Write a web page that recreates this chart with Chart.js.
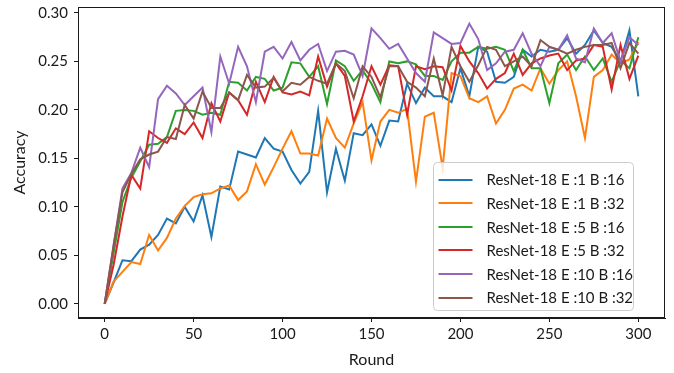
<!DOCTYPE html>
<html>
<head>
<meta charset="utf-8">
<script src="https://cdn.jsdelivr.net/npm/chart.js@4/dist/chart.umd.min.js"></script>
<style>
  html, body { margin: 0; padding: 0; background: #ffffff; }
  #wrap { width: 674px; height: 373px; }
</style>
</head>
<body>
<div id="wrap"><canvas id="c" width="674" height="373"></canvas></div>
<script>
const rounds = [0,5,10,15,20,25,30,35,40,45,50,55,60,65,70,75,80,85,90,95,100,105,110,115,120,125,130,135,140,145,150,155,160,165,170,175,180,185,190,195,200,205,210,215,220,225,230,235,240,245,250,255,260,265,270,275,280,285,290,295,300];

const accE1B16 = [0,0.022,0.045,0.044,0.056,0.061,0.071,0.088,0.083,0.100,0.085,0.112,0.069,0.121,0.118,0.157,0.154,0.151,0.171,0.160,0.157,0.138,0.124,0.136,0.199,0.115,0.160,0.127,0.176,0.174,0.185,0.163,0.189,0.188,0.227,0.207,0.223,0.214,0.214,0.208,0.243,0.214,0.265,0.260,0.229,0.228,0.234,0.262,0.255,0.262,0.260,0.262,0.274,0.258,0.267,0.282,0.269,0.265,0.250,0.282,0.214];
const accE1B32 = [0,0.023,0.033,0.043,0.041,0.071,0.055,0.068,0.088,0.101,0.110,0.113,0.114,0.119,0.122,0.107,0.116,0.144,0.123,0.141,0.160,0.178,0.155,0.155,0.153,0.191,0.171,0.161,0.186,0.208,0.148,0.188,0.200,0.197,0.201,0.126,0.193,0.197,0.140,0.238,0.235,0.212,0.208,0.214,0.186,0.200,0.222,0.226,0.220,0.243,0.227,0.241,0.250,0.214,0.171,0.234,0.241,0.257,0.248,0.252,0.270];
const accE5B16 = [0,0.052,0.105,0.130,0.147,0.164,0.165,0.172,0.199,0.200,0.199,0.195,0.197,0.195,0.229,0.228,0.220,0.234,0.232,0.220,0.223,0.249,0.248,0.234,0.245,0.206,0.251,0.245,0.230,0.241,0.227,0.208,0.250,0.248,0.250,0.247,0.235,0.235,0.231,0.250,0.259,0.259,0.265,0.263,0.265,0.262,0.240,0.262,0.243,0.243,0.207,0.248,0.257,0.241,0.255,0.241,0.253,0.229,0.251,0.243,0.275];
const accE5B32 = [0,0.040,0.090,0.133,0.119,0.178,0.171,0.166,0.181,0.175,0.187,0.171,0.207,0.188,0.218,0.210,0.195,0.229,0.208,0.234,0.218,0.216,0.219,0.215,0.255,0.224,0.248,0.235,0.188,0.214,0.245,0.226,0.246,0.245,0.195,0.245,0.242,0.245,0.244,0.220,0.266,0.250,0.238,0.222,0.232,0.238,0.258,0.236,0.248,0.253,0.256,0.258,0.241,0.251,0.253,0.267,0.265,0.221,0.267,0.232,0.256];
const accE10B16 = [0,0.060,0.119,0.135,0.161,0.141,0.211,0.225,0.217,0.205,0.214,0.223,0.177,0.255,0.227,0.265,0.245,0.208,0.260,0.265,0.253,0.270,0.251,0.262,0.268,0.240,0.260,0.261,0.257,0.235,0.284,0.274,0.263,0.268,0.253,0.238,0.229,0.280,0.274,0.268,0.269,0.289,0.273,0.241,0.248,0.260,0.262,0.279,0.258,0.245,0.265,0.262,0.277,0.253,0.249,0.284,0.269,0.279,0.250,0.275,0.267];
const accE10B32 = [0,0.060,0.115,0.134,0.149,0.154,0.157,0.172,0.170,0.205,0.191,0.219,0.202,0.202,0.218,0.210,0.236,0.223,0.224,0.233,0.219,0.228,0.226,0.234,0.230,0.227,0.248,0.240,0.212,0.245,0.234,0.213,0.245,0.245,0.229,0.223,0.214,0.253,0.215,0.265,0.245,0.229,0.246,0.265,0.262,0.245,0.250,0.255,0.245,0.272,0.265,0.262,0.258,0.262,0.265,0.267,0.267,0.269,0.243,0.269,0.258];

const seriesLabels = ['ResNet-18 E :1 B :16','ResNet-18 E :1 B :32','ResNet-18 E :5 B :16','ResNet-18 E :5 B :32','ResNet-18 E :10 B :16','ResNet-18 E :10 B :32'];
const seriesValues = [accE1B16, accE1B32, accE5B16, accE5B32, accE10B16, accE10B32];
const seriesColors = ['#1f77b4','#ff7f0e','#2ca02c','#d62728','#9467bd','#8c564b'];

const xTicks = [0,50,100,150,200,250,300];
const yTicks = [0,0.05,0.10,0.15,0.20,0.25,0.30];
const xTitle = 'Round';
const yTitle = 'Accuracy';

const FONT = 'Lato, "Open Sans", "DejaVu Sans", sans-serif';
const INK = '#1a1a1a';

const datasets = seriesValues.map((vals, i) => ({
  label: seriesLabels[i],
  data: rounds.map((r, j) => ({ x: r, y: vals[j] })),
  borderColor: seriesColors[i],
  backgroundColor: seriesColors[i],
  borderWidth: 2,
  pointRadius: 0,
  pointHoverRadius: 0,
  tension: 0,
  fill: false,
  order: seriesValues.length - i
}));

const framePlugin = {
  id: 'frame',
  afterDraw(chart) {
    const { ctx, chartArea: a } = chart;
    ctx.save();
    ctx.strokeStyle = INK;
    ctx.lineWidth = 1;
    ctx.strokeRect(Math.round(a.left) + 0.5, Math.round(a.top) + 0.5, Math.round(a.right - a.left) - 1, Math.round(a.bottom - a.top) - 1);
    ctx.restore();
  }
};

const legendPlugin = {
  id: 'boxLegend',
  afterDraw(chart) {
    const { ctx, chartArea: a } = chart;
    const w = 200, h = 148;
    const x0 = a.right - 32 - w + 0.5;
    const y0 = a.bottom - 8 - h + 0.5;
    ctx.save();
    const r = 4;
    ctx.beginPath();
    ctx.moveTo(x0 + r, y0);
    ctx.lineTo(x0 + w - r, y0);
    ctx.quadraticCurveTo(x0 + w, y0, x0 + w, y0 + r);
    ctx.lineTo(x0 + w, y0 + h - r);
    ctx.quadraticCurveTo(x0 + w, y0 + h, x0 + w - r, y0 + h);
    ctx.lineTo(x0 + r, y0 + h);
    ctx.quadraticCurveTo(x0, y0 + h, x0, y0 + h - r);
    ctx.lineTo(x0, y0 + r);
    ctx.quadraticCurveTo(x0, y0, x0 + r, y0);
    ctx.closePath();
    ctx.fillStyle = 'rgba(255,255,255,0.8)';
    ctx.fill();
    ctx.strokeStyle = '#cccccc';
    ctx.lineWidth = 1;
    ctx.stroke();
    ctx.font = '15px ' + FONT;
    ctx.textBaseline = 'middle';
    ctx.textAlign = 'left';
    chart.data.datasets.forEach((ds, i) => {
      const yy = y0 + 17 + i * 23.6;
      ctx.strokeStyle = ds.borderColor;
      ctx.lineWidth = 2;
      ctx.beginPath();
      ctx.moveTo(x0 + 5, Math.round(yy));
      ctx.lineTo(x0 + 39, Math.round(yy));
      ctx.stroke();
      ctx.fillStyle = INK;
      ctx.fillText(ds.label, x0 + 53, yy + 1);
    });
    ctx.restore();
  }
};

function noPad(s) { s.paddingTop = 0; s.paddingBottom = 0; s.paddingLeft = 0; s.paddingRight = 0; }

new Chart(document.getElementById('c'), {
  type: 'line',
  data: { datasets },
  options: {
    responsive: false,
    devicePixelRatio: 1,
    animation: false,
    layout: { padding: { top: 7, right: 9, left: 0, bottom: 0 } },
    plugins: { legend: { display: false }, tooltip: { enabled: false } },
    scales: {
      x: {
        type: 'linear',
        min: -15,
        max: 315,
        afterBuildTicks: (s) => { s.ticks = xTicks.map(v => ({ value: v })); },
        afterFit: (s) => { s.height = 55; noPad(s); },
        ticks: { font: { family: FONT, size: 15 }, color: INK, padding: 3, maxRotation: 0, autoSkip: false, callback: (v) => String(v) },
        grid: { drawOnChartArea: false, drawTicks: true, tickLength: 4, color: INK, tickWidth: 1 },
        border: { display: true, color: INK, width: 1 },
        title: { display: true, text: xTitle, font: { family: FONT, size: 16 }, color: INK, padding: { top: 0, bottom: 4 } }
      },
      y: {
        type: 'linear',
        min: -0.0146,
        max: 0.3061,
        afterBuildTicks: (s) => { s.ticks = yTicks.map(v => ({ value: v })); },
        afterFit: (s) => { s.width = 78; noPad(s); },
        ticks: { font: { family: FONT, size: 15 }, color: INK, padding: 6, autoSkip: false, callback: (v) => Number(v).toFixed(2) },
        grid: { drawOnChartArea: false, drawTicks: true, tickLength: 4, color: INK, tickWidth: 1 },
        border: { display: true, color: INK, width: 1 },
        title: { display: true, text: yTitle, font: { family: FONT, size: 16 }, color: INK, padding: { top: 10, bottom: 0 } }
      }
    }
  },
  plugins: [framePlugin, legendPlugin]
});
</script>
</body>
</html>
